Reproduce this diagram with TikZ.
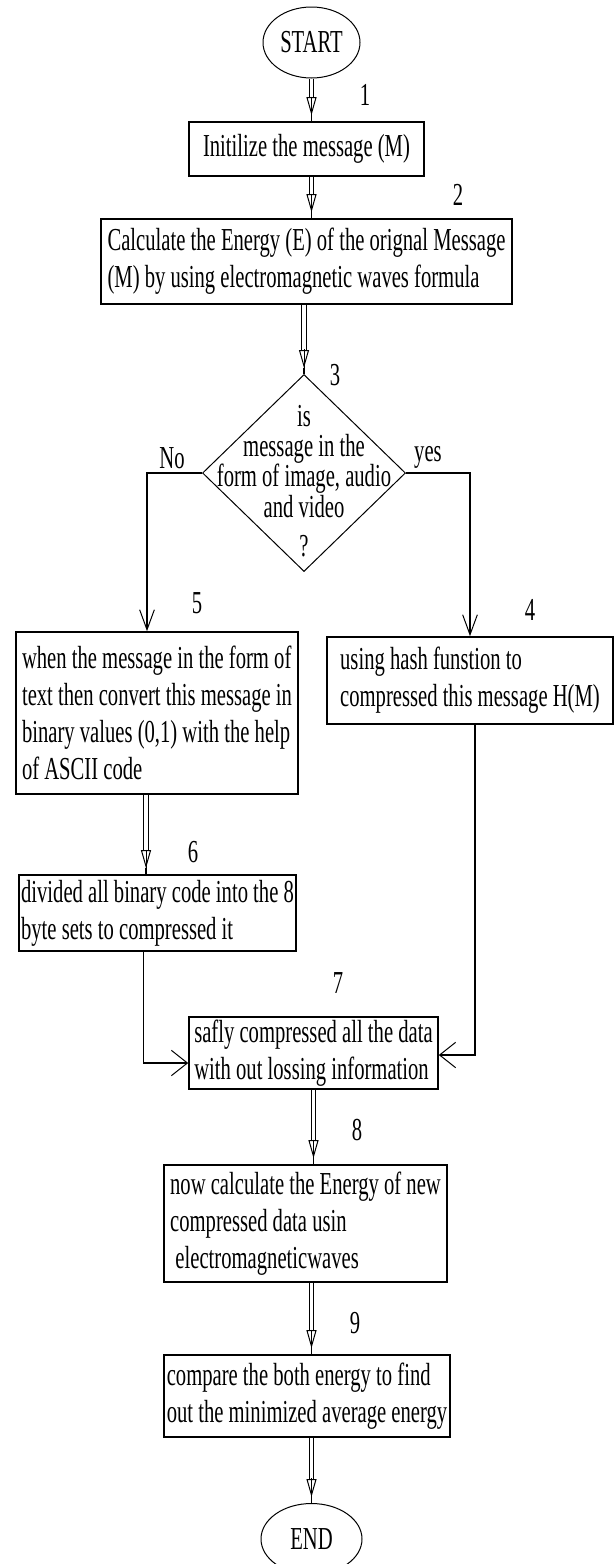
\documentclass[tikz,border=0pt]{standalone}
\usepackage{fontspec}
\setmainfont{Liberation Serif}[FakeStretch=0.645]
\usetikzlibrary{shapes.geometric,arrows.meta}

\begin{document}
\begin{tikzpicture}[x=0.75pt,y=0.75pt,yscale=-1,xscale=1,
    every node/.style={font=\fontsize{24}{27.75}\selectfont, inner sep=0.75pt},
    stepbox/.style={draw, rectangle, line width=1.2pt, align=left},
    terminal/.style={draw, ellipse, line width=0.75pt},
    decision/.style={draw, diamond, line width=0.75pt},
    flow/.style={line width=0.9pt, -{Straight Barb[length=15pt,width=11pt,line width=0.75pt]}},
    flowwide/.style={flow, -{Straight Barb[length=12pt,width=19pt,line width=0.75pt]}},
    dblshaft/.style={double, double distance=2.6pt, line width=0.75pt, shorten >=18pt},
    dblhead/.style={line width=0.75pt, -{Triangle[open,length=13.5pt,width=7.5pt,line width=0.75pt]Rectangle[length=4.5pt,width=1.2pt]}}
  ]
    \useasboundingbox (0,0) rectangle (616,1564);
    % Terminal
    \draw (311.5,42.5) node [terminal, minimum width=72.75pt, minimum height=53.25pt] (start) {START};
    % Steps
    \draw (306.5,149) node [stepbox, minimum width=176.25pt, minimum height=40.5pt] (init) {Initilize the message (M)};
    \draw (306.5,261.5) node [stepbox, minimum width=308.25pt, minimum height=63.75pt] (energy) {Calculate the Energy (E) of the orignal Message\\(M) by using electromagnetic waves formula};
    % Decision
    \draw (304,473) node [decision, minimum width=152.25pt, minimum height=147.75pt] (decide) {};
    \draw (304,481) node [align=center] (question) {is\\[-5.5pt]message in the\\[-5.25pt]form of image, audio\\[-4.5pt]and video\\[1.5pt]?};
    % Branches
    \draw (157,713) node [stepbox, minimum width=211.5pt, minimum height=121.5pt] (ascii) {when the message in the form of\\text then convert this message in\\binary values (0,1) with the help\\of ASCII code};
    \draw (470,680.5) node [stepbox, minimum width=214.5pt, minimum height=65.25pt] (hash) {using hash funstion to\\compressed this message H(M)};
    \draw (157.5,913) node [stepbox, minimum width=207.75pt, minimum height=57pt] (divide) {divided all binary code into the 8\\byte sets to compressed it};
    \draw (313.5,1053) node [stepbox, minimum width=186.75pt, minimum height=54pt] (safe) {safly compressed all the data\\with out lossing information};
    \draw (305.5,1223.5) node [stepbox, minimum width=212.25pt, minimum height=87.75pt] (newenergy) {now calculate the Energy of new\\compressed data usin\\\hspace*{4pt}electromagneticwaves};
    \draw (307,1396) node [stepbox, minimum width=214.5pt, minimum height=61.5pt] (compare) {compare the both energy to find\\out the minimized average energy};
    % Terminal
    \draw (311.5,1539) node [terminal, minimum width=75.75pt, minimum height=53.25pt] (end) {END};

    % Double arrows
    \draw [dblshaft] (start.south) -- (start.south |- init.north);
    \draw [dblhead] ([yshift=-18.5pt]start.south |- init.north) -- (start.south |- init.north);
    \draw [dblshaft] (init.south -| start.south) -- (start.south |- energy.north);
    \draw [dblhead] ([yshift=-18.5pt]start.south |- energy.north) -- (start.south |- energy.north);
    \draw [dblshaft] (energy.south -| decide.north) -- (decide.north);
    \draw [dblhead] ([yshift=-18.5pt]decide.north) -- (decide.north);
    \draw [dblshaft] ([xshift=-8.25pt]ascii.south) -- ([xshift=-8.25pt]ascii.south |- divide.north);
    \draw [dblhead] ([xshift=-8.25pt,yshift=-18.5pt]ascii.south |- divide.north) -- ([xshift=-8.25pt]ascii.south |- divide.north);
    \draw [dblshaft] (safe.south) -- (safe.south |- newenergy.north);
    \draw [dblhead] ([yshift=-18.5pt]safe.south |- newenergy.north) -- (safe.south |- newenergy.north);
    \draw [dblshaft] (newenergy.south -| end.north) -- (compare.north -| end.north);
    \draw [dblhead] ([yshift=-18.5pt]compare.north -| end.north) -- (compare.north -| end.north);
    \draw [dblshaft] (compare.south -| end.north) -- (end.north);
    \draw [dblhead] ([yshift=-18.5pt]end.north) -- (end.north);

    % Single arrows
    \draw [flow] (decide.west) -| ([xshift=-7.5pt]ascii.north);
    \draw [flow] (decide.east) -| (hash.north);
    \draw [flowwide] ([xshift=-10.5pt]divide.south) |- ([yshift=7.5pt]safe.west);
    \draw [flowwide] ([xshift=3.75pt]hash.south) |- ([yshift=1.5pt]safe.east);

    % Text Node
    \draw (172,458) node (no) {No};
    \draw (428,457) node (yes) {yes};
    % Step numbers
    \draw (365,95) node (n1) {1};
    \draw (458,195) node (n2) {2};
    \draw (335,375) node (n3) {3};
    \draw (530,610) node (n4) {4};
    \draw (197,603) node (n5) {5};
    \draw (193,852) node (n6) {6};
    \draw (338,983) node (n7) {7};
    \draw (357,1130) node (n8) {8};
    \draw (355,1323) node (n9) {9};
\end{tikzpicture}
\end{document}
